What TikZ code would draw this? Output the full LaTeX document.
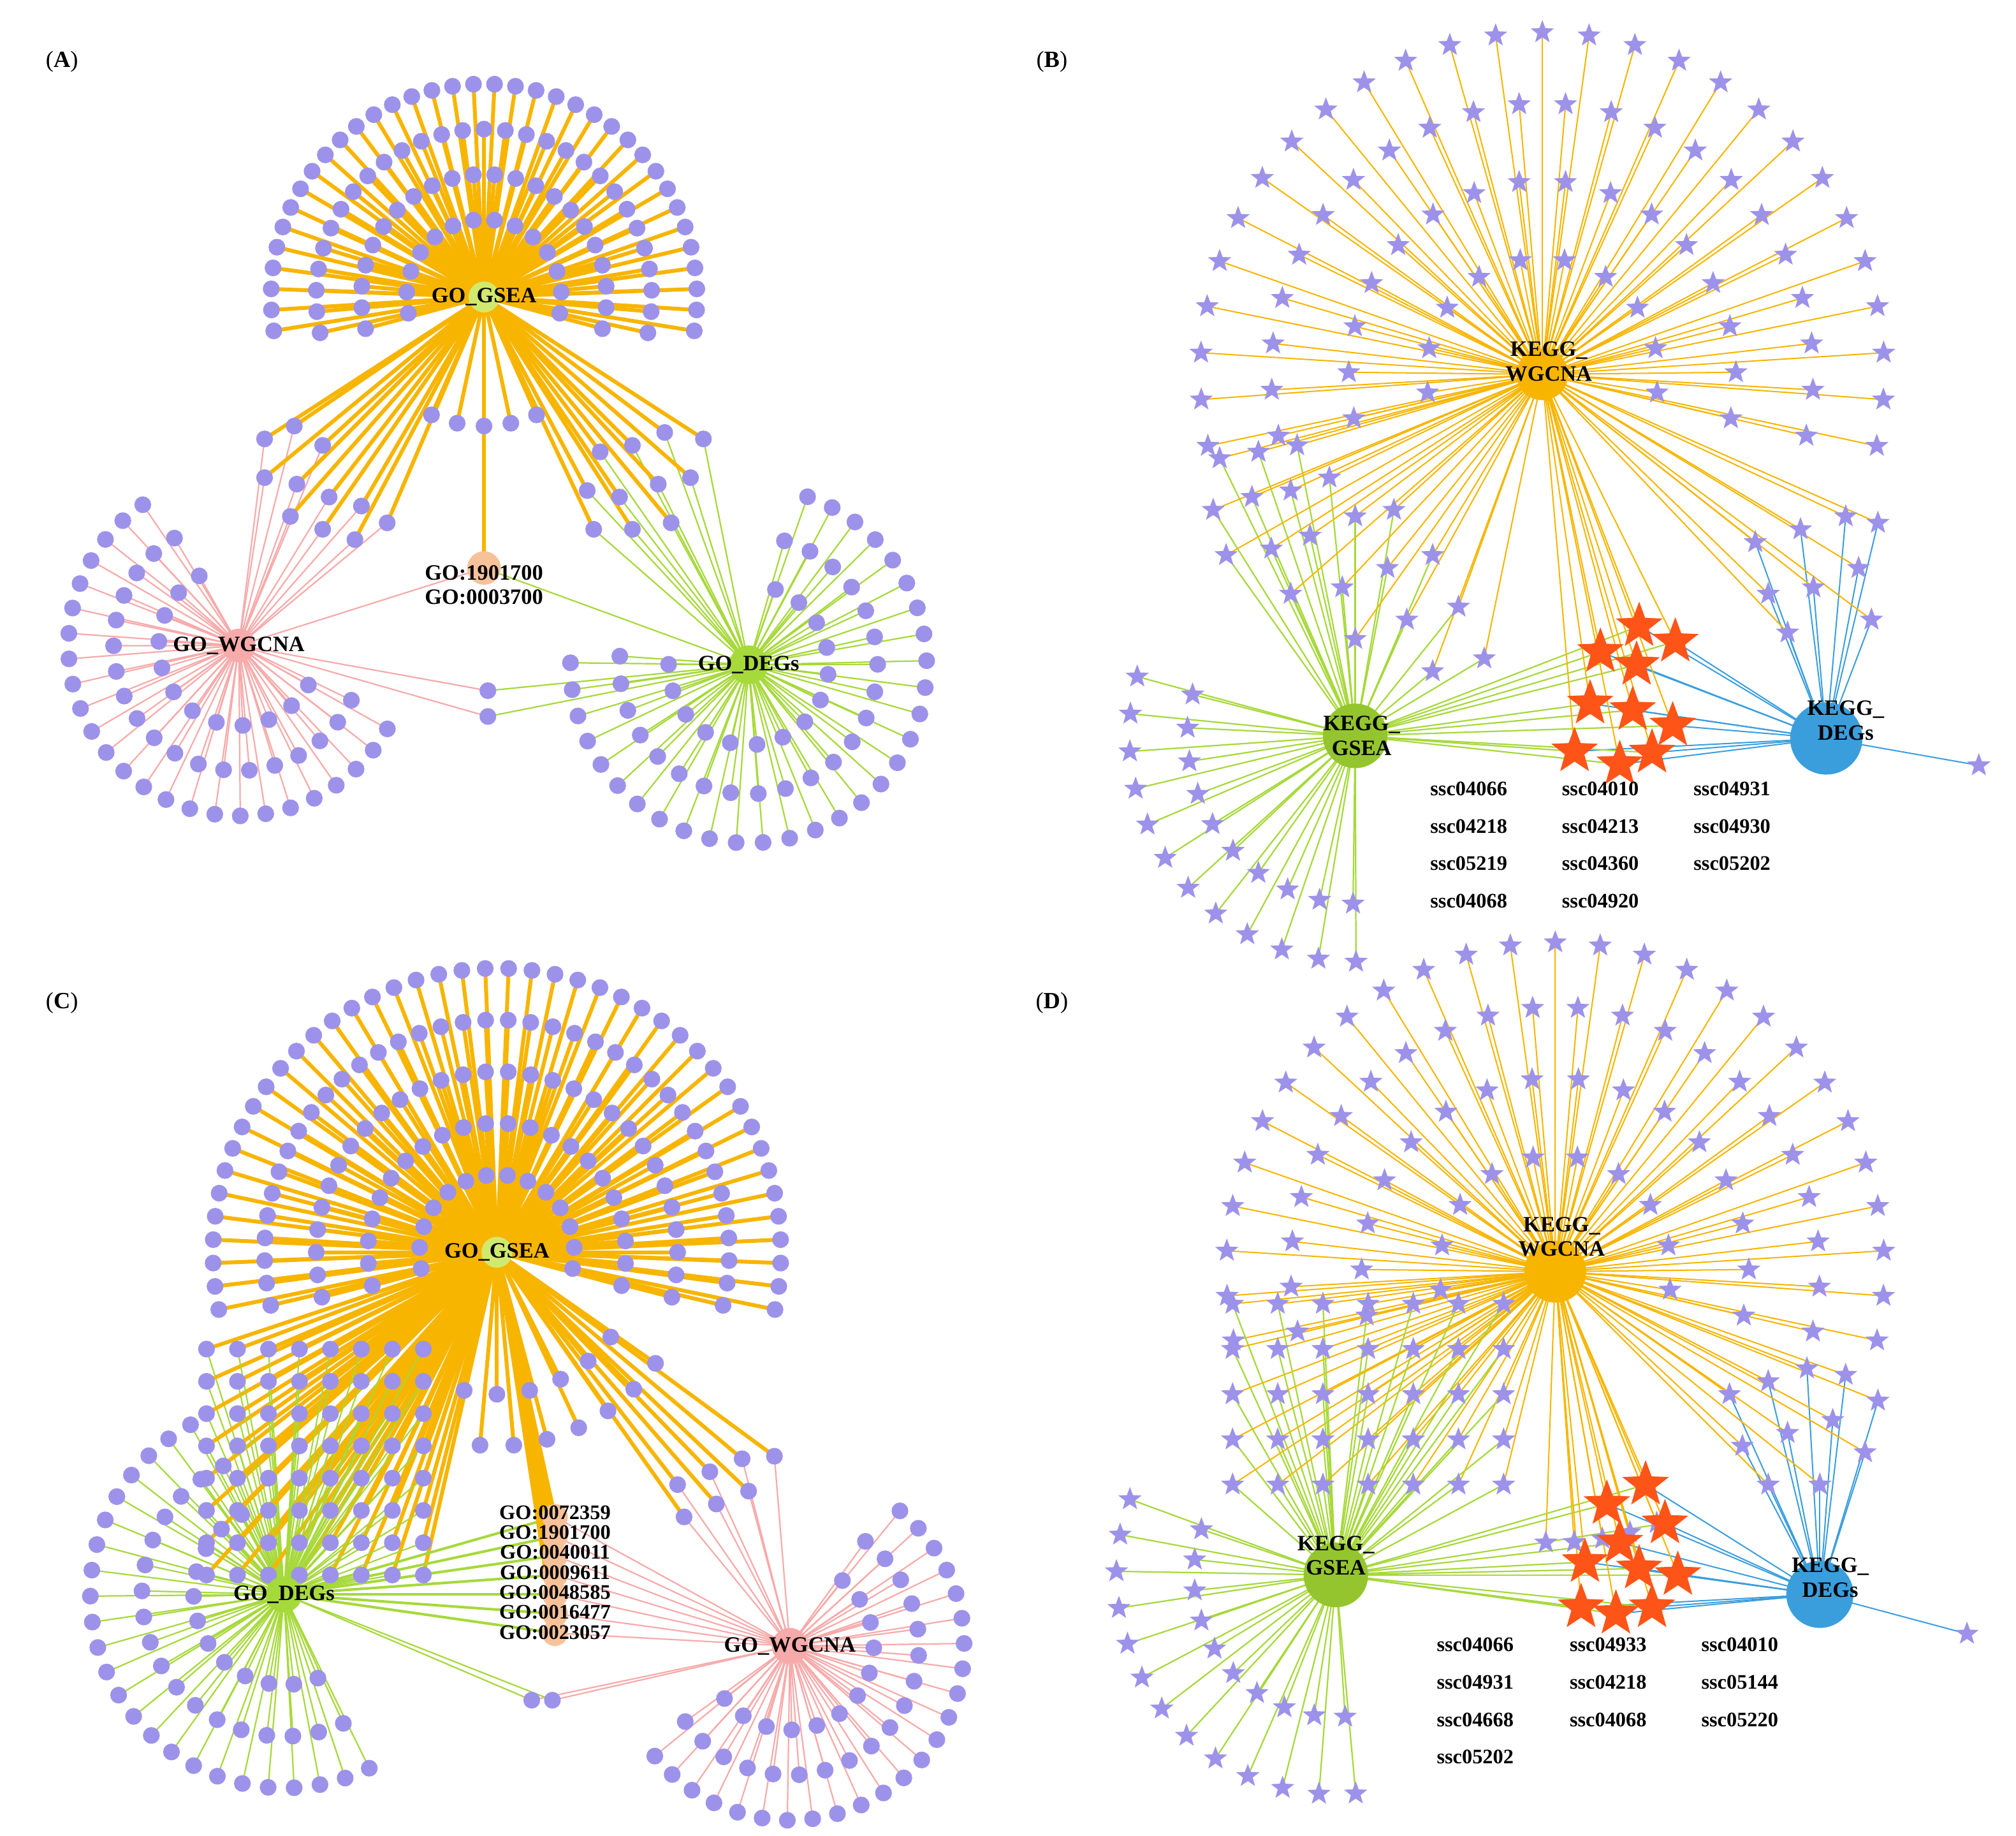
\documentclass[tikz,border=0pt]{standalone}
\usepackage{fontspec}
\setmainfont{Liberation Serif}
\usetikzlibrary{calc,shapes.geometric}
\definecolor{dotc}{HTML}{9D92EA}
\definecolor{orc}{HTML}{F7B500}
\definecolor{pkc}{HTML}{F7AAAA}
\definecolor{grc}{HTML}{A6D93A}
\definecolor{blc}{HTML}{3A9EDD}
\definecolor{rdc}{HTML}{FF5418}
\definecolor{pch}{HTML}{F7C29A}
\tikzset{
 dot/.style={circle,fill=dotc,inner sep=0,minimum size=13},
 st/.style={star,star points=5,star point ratio=2.4,fill=dotc,inner sep=0,minimum size=19},
 rst/.style={star,star points=5,star point ratio=2.4,fill=rdc,inner sep=0,minimum size=38},
 pchn/.style={circle,fill=pch,inner sep=0,minimum size=20},
 oeT/.style={draw=orc,line width=3},
 oe/.style={draw=orc,line width=1},
 pe/.style={draw=pkc,line width=1.1},
 ge/.style={draw=grc,line width=1.1},
 geT/.style={draw=grc,line width=2},
 be/.style={draw=blc,line width=1},
 hub/.style={circle,inner sep=0},
 lab/.style={font=\bfseries\fontsize{17}{19}\selectfont,inner sep=0,align=center},
 slab/.style={font=\bfseries\fontsize{16}{18}\selectfont,inner sep=0,anchor=west},
 plab/.style={font=\fontsize{18}{20}\selectfont,inner sep=0},
}
\newif\ifedg
\newcommand\ring[8]{\foreach \i in {1,...,#5}{\pgfmathsetmacro\ang{#2+(#3-#2)*(\i-0.5)/#5}
 \ifedg\draw[#6] (#1) -- ($(#1)+(\ang:#4)$) coordinate (#8-\i);
 \else\node[#7] (#8-\i) at ($(#1)+(\ang:#4)$) {};\fi}}
\newcommand\shared[7]{\foreach \p [count=\i] in {#1}{
 \ifedg\path \p coordinate (#7-\i); \draw[#3] (#2) -- (#7-\i); \draw[#5] (#4) -- (#7-\i);
 \else\node[#6] (#7-\i) at \p {};\fi}}
\newcommand\tri[8]{\foreach \p [count=\i] in {#1}{
 \ifedg\path \p coordinate (#8-\i); \draw[#3] (#2) -- (#8-\i); \draw[#5] (#4) -- (#8-\i); \draw[#7] (#6) -- (#8-\i);
 \else\node[#8st] (#8-\i) at \p {};\fi}}
\newcommand\gridn[9]{\foreach \x in {#1}{\foreach \y in {#2}{
 \ifedg\coordinate (#9\x-\y) at (\x,\y); \draw[#4] (#3) -- (#9\x-\y); \draw[#6] (#5) -- (#9\x-\y);
 \else\node[#7] (#9\x-\y) at (\x,\y) {};\fi}}}
\tikzset{brst/.style={rst},drst/.style={rst},cgst/.style={pchn},agst/.style={pchn,minimum size=26}}
\def\panelA{%
\ring{A1}{-200}{20}{60}{14}{oeT}{dot}{a1}
\ring{A1}{-200}{20}{95}{22}{oeT}{dot}{a2}
\ring{A1}{-196}{16}{130}{29}{oeT}{dot}{a3}
\ring{A1}{-192}{12}{165}{36}{oeT}{dot}{a4}
\ring{A1}{60}{120}{100}{5}{oeT}{dot}{a5}
\ring{A2}{20}{250}{62}{12}{pe}{dot}{a6}
\ring{A2}{20}{245}{97}{19}{pe}{dot}{a7}
\ring{A2}{25}{240}{132}{25}{pe}{dot}{a8}
\ring{A3}{-80}{190}{62}{14}{ge}{dot}{a9}
\ring{A3}{-80}{190}{100}{22}{ge}{dot}{a10}
\ring{A3}{-75}{185}{138}{30}{ge}{dot}{a11}
\shared{(205,340),(228,330),(250,345),(205,370),(230,375),(255,385),(280,392),(300,405),(225,400),(250,410),(275,418)}{A1}{oeT}{A2}{pe}{dot}{a12}
\shared{(465,350),(490,345),(515,335),(545,340),(455,380),(480,385),(510,375),(535,370),(460,410),(490,410),(520,405)}{A1}{oeT}{A3}{ge}{dot}{a13}
\shared{(378,535),(378,555)}{A2}{pe}{A3}{ge}{dot}{a14}
\tri{(375,440)}{A1}{oeT}{A2}{pe}{A3}{ge}{ag}%
}
\def\panelB{%
\ring{B1}{-200}{20}{90}{10}{oe}{st}{b1}
\ring{B1}{-200}{20}{150}{16}{oe}{st}{b2}
\ring{B1}{-198}{18}{210}{22}{oe}{st}{b3}
\ring{B1}{-196}{16}{265}{27}{oe}{st}{b4}
\ring{B2}{85}{200}{130}{10}{ge}{st}{b5}
\ring{B2}{85}{200}{175}{12}{ge}{st}{b6}
\shared{(945,355),(975,350),(1005,345),(940,395),(970,385),(1000,380),(1030,370),(950,430),(985,425),(1015,415),(1050,400),(1080,395),(1000,460),(1040,455),(1075,440),(1110,430),(1050,495),(1090,480),(1130,470),(1150,510),(1110,520)}{B1}{oe}{B2}{ge}{st}{b7}
\shared{(1360,420),(1395,410),(1430,400),(1455,405),(1370,460),(1405,455),(1440,440),(1385,490),(1450,480)}{B1}{oe}{B3}{be}{st}{b8}
\ring{B3}{10}{10}{120}{1}{be}{st}{b9}
\tri{(1270,485),(1298,497),(1240,505),(1268,515),(1232,545),(1265,550),(1296,562),(1220,582),(1255,592),(1280,583)}{B1}{oe}{B2}{ge}{B3}{be}{br}%
}
\def\panelC{%
\ring{C1}{-200}{20}{60}{14}{oeT}{dot}{c1}
\ring{C1}{-200}{20}{100}{22}{oeT}{dot}{c2}
\ring{C1}{-198}{18}{140}{30}{oeT}{dot}{c3}
\ring{C1}{-196}{16}{180}{38}{oeT}{dot}{c4}
\ring{C1}{-194}{14}{220}{44}{oeT}{dot}{c5}
\ring{C1}{30}{110}{110}{6}{oeT}{dot}{c6}
\ring{C1}{30}{100}{150}{7}{oeT}{dot}{c7}
\ring{C2}{60}{250}{70}{12}{ge}{dot}{c8}
\ring{C2}{60}{250}{110}{18}{ge}{dot}{c9}
\ring{C2}{60}{245}{150}{24}{ge}{dot}{c10}
\ring{C3}{-60}{150}{65}{12}{pe}{dot}{c11}
\ring{C3}{-60}{150}{100}{18}{pe}{dot}{c12}
\ring{C3}{-55}{145}{135}{24}{pe}{dot}{c13}
\gridn{160,184,...,328}{1045,1070,...,1220}{C1}{oeT}{C2}{ge}{dot}{}{cs}
\shared{(525,1150),(550,1140),(575,1130),(600,1128),(530,1175),(555,1165),(580,1155)}{C1}{oeT}{C3}{pe}{dot}{c14}
\shared{(412,1317),(428,1317)}{C2}{ge}{C3}{pe}{dot}{c15}
\tri{(430,1175),(430,1190),(430,1205),(430,1220),(430,1235),(430,1250),(430,1265)}{C1}{oeT}{C2}{geT}{C3}{pe}{cg}%
}
\def\panelD{%
\ring{D1}{-200}{20}{90}{10}{oe}{st}{d1}
\ring{D1}{-200}{20}{150}{16}{oe}{st}{d2}
\ring{D1}{-198}{18}{205}{22}{oe}{st}{d3}
\ring{D1}{-196}{16}{255}{27}{oe}{st}{d4}
\ring{D2}{80}{205}{110}{10}{ge}{st}{d5}
\ring{D2}{80}{205}{170}{13}{ge}{st}{d6}
\gridn{955,990,...,1165}{1010,1045,...,1180}{D1}{oe}{D2}{ge}{st}{}{ds}
\shared{(1340,1080),(1370,1070),(1400,1060),(1430,1065),(1455,1085),(1350,1120),(1385,1110),(1420,1100),(1445,1125),(1370,1150),(1410,1150)}{D1}{oe}{D3}{be}{st}{d7}
\ring{D3}{15}{15}{118}{1}{be}{st}{d8}
\ring{D1}{65}{95}{210}{5}{oe}{st}{d9}
\tri{(1275,1150),(1245,1165),(1290,1180),(1255,1195),(1228,1210),(1270,1215),(1300,1220),(1225,1245),(1252,1250),(1280,1245)}{D1}{oe}{D2}{ge}{D3}{be}{dr}%
}
\begin{document}
\begin{tikzpicture}[x=1pt,y=-1pt]
\useasboundingbox[fill=white] (0,0) rectangle (1562,1422);
\coordinate (A1) at (375,230); \coordinate (A2) at (185,500); \coordinate (A3) at (580,515);
\coordinate (B1) at (1195,290); \coordinate (B2) at (1050,570); \coordinate (B3) at (1415,572);
\coordinate (C1) at (385,970); \coordinate (C2) at (220,1235); \coordinate (C3) at (612,1275);
\coordinate (D1) at (1205,985); \coordinate (D2) at (1035,1220); \coordinate (D3) at (1410,1235);
\edgtrue \panelA \panelB \panelC \panelD
\edgfalse \panelA \panelB \panelC \panelD
% hubs
\node[hub,fill=yellow!70!green!60,minimum size=24] (A1h) at (A1) {};
\node[hub,fill=pkc,minimum size=26] (A2h) at (A2) {};
\node[hub,fill=grc,minimum size=30] (A3h) at (A3) {};
\node[hub,fill=orc,minimum size=40] (B1h) at (B1) {};
\node[hub,fill=yellow!60!green!90!black,minimum size=50] (B2h) at (B2) {};
\node[hub,fill=blc,minimum size=56] (B3h) at (B3) {};
\node[hub,fill=yellow!70!green!60,minimum size=24] (C1h) at (C1) {};
\node[hub,fill=grc,minimum size=28] (C2h) at (C2) {};
\node[hub,fill=pkc,minimum size=28] (C3h) at (C3) {};
\node[hub,fill=orc,minimum size=48] (D1h) at (D1) {};
\node[hub,fill=yellow!60!green!90!black,minimum size=50] (D2h) at (D2) {};
\node[hub,fill=blc,minimum size=52] (D3h) at (D3) {};
% labels
\node[plab] at (48,48) {(\textbf{A})};
\node[plab] at (815,48) {(\textbf{B})};
\node[plab] at (48,777) {(\textbf{C})};
\node[plab] at (815,777) {(\textbf{D})};
\node[lab] at (A1) {GO\_GSEA};
\node[lab] at (A2) {GO\_WGCNA};
\node[lab] at (A3) {GO\_DEGs};
\node[lab] at (375,453) {GO:1901700\\GO:0003700};
\node[lab] at (1200,280) {KEGG\_\\WGCNA};
\node[lab] at (1055,570) {KEGG\_\\GSEA};
\node[lab] at (1430,558) {KEGG\_\\DEGs};
\node[slab] at (1108,611) {ssc04066};\node[slab] at (1210,611) {ssc04010};\node[slab] at (1312,611) {ssc04931};
\node[slab] at (1108,640) {ssc04218};\node[slab] at (1210,640) {ssc04213};\node[slab] at (1312,640) {ssc04930};
\node[slab] at (1108,669) {ssc05219};\node[slab] at (1210,669) {ssc04360};\node[slab] at (1312,669) {ssc05202};
\node[slab] at (1108,698) {ssc04068};\node[slab] at (1210,698) {ssc04920};
\node[lab] at (C1) {GO\_GSEA};
\node[lab] at (C2) {GO\_DEGs};
\node[lab] at (C3) {GO\_WGCNA};
\node[lab,font=\bfseries\fontsize{16}{15.5}\selectfont] at (430,1218) {GO:0072359\\GO:1901700\\GO:0040011\\GO:0009611\\GO:0048585\\GO:0016477\\GO:0023057};
\node[lab] at (1210,958) {KEGG\_\\WGCNA};
\node[lab] at (1035,1205) {KEGG\_\\GSEA};
\node[lab] at (1418,1222) {KEGG\_\\DEGs};
\node[slab] at (1113,1274) {ssc04066};\node[slab] at (1216,1274) {ssc04933};\node[slab] at (1318,1274) {ssc04010};
\node[slab] at (1113,1303) {ssc04931};\node[slab] at (1216,1303) {ssc04218};\node[slab] at (1318,1303) {ssc05144};
\node[slab] at (1113,1332) {ssc04668};\node[slab] at (1216,1332) {ssc04068};\node[slab] at (1318,1332) {ssc05220};
\node[slab] at (1113,1361) {ssc05202};
\end{tikzpicture}
\end{document}
